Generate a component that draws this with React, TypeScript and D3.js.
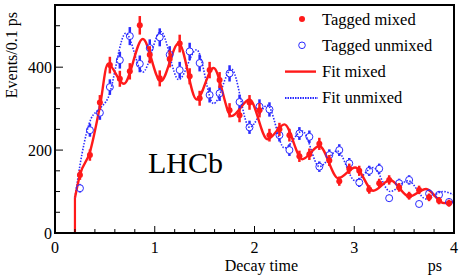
import React from 'react';
import * as d3 from 'd3';

// bin centres (ps), 0.1 ps bins
const binCenters = [
  0.25, 0.35, 0.45, 0.55, 0.65, 0.75, 0.85, 0.95, 1.05, 1.15,
  1.25, 1.35, 1.45, 1.55, 1.65, 1.75, 1.85, 1.95, 2.05, 2.15,
  2.25, 2.35, 2.45, 2.55, 2.65, 2.75, 2.85, 2.95, 3.05, 3.15,
  3.25, 3.35, 3.45, 3.55, 3.65, 3.75, 3.85, 3.95,
];
const mixedCounts = [
  140, 188, 315, 405, 372, 390, 501, 430, 373, 420,
  457, 378, 325, 393, 369, 296, 284, 315, 296, 236,
  250, 236, 185, 190, 215, 175, 125, 155, 150, 105,
  120, 128, 110, 90, 104, 86, 78, 72,
];
const unmixedCounts = [
  108, 248, 290, 352, 417, 475, 408, 446, 472, 430,
  393, 438, 410, 333, 337, 385, 316, 255, 305, 298,
  236, 200, 240, 232, 160, 188, 200, 168, 122, 150,
  155, 84, 120, 128, 70, 95, 92, 75,
];

// fit curves, read at their turning points
const fitMixedT = [0.2, 0.25, 0.35, 0.45, 0.53, 0.69, 0.88, 1.06, 1.24, 1.42, 1.59, 1.77, 1.95, 2.13, 2.30, 2.48, 2.65, 2.84, 3.01, 3.19, 3.36, 3.55, 3.72, 3.90, 4.0];
const fitMixedV = [85, 140, 195, 305, 408, 360, 468, 366, 458, 322, 398, 282, 322, 226, 262, 178, 210, 132, 158, 102, 128, 88, 106, 72, 76];
const fitUnmixedT = [0.2, 0.27, 0.36, 0.45, 0.53, 0.71, 0.88, 1.06, 1.24, 1.42, 1.59, 1.77, 1.95, 2.13, 2.30, 2.48, 2.65, 2.83, 3.01, 3.19, 3.36, 3.54, 3.72, 3.89, 4.0];
const fitUnmixedV = [85, 190, 275, 300, 325, 482, 388, 486, 370, 442, 312, 395, 255, 308, 205, 246, 160, 198, 126, 158, 100, 126, 82, 100, 92];

const xTicks = [0, 1, 2, 3, 4];
const yTicks = [0, 200, 400];
const legendLabels = ['Tagged mixed', 'Tagged unmixed', 'Fit mixed', 'Fit unmixed'];

const RED = '#ff1a1a';
const BLUE = '#2a2aff';
const FONT = "'Liberation Serif', 'DejaVu Serif', serif";

export default function App() {
  const W = 461, H = 275;
  const x = d3.scaleLinear().domain([0, 4]).range([55, 454]);
  const y = d3.scaleLinear().domain([0, 550]).range([233, 5]);

  const line = d3.line<[number, number]>()
    .x(d => x(d[0]))
    .y(d => y(d[1]))
    .curve(d3.curveMonotoneX);

  const mixedPath = line(fitMixedT.map((t, i) => [t, fitMixedV[i]]))!;
  const unmixedPath = line(fitUnmixedT.map((t, i) => [t, fitUnmixedV[i]]))!;
  const startPath = `M${x(0)},${y(0)}L${x(0.2)},${y(0)}L${x(0.2)},${y(fitMixedV[0])}`;

  const xMinor = d3.range(0, 4.001, 0.2);
  const yMinor = d3.range(0, 551, 50);

  return (
    <svg width={W} height={H} style={{ position: 'absolute', left: 0, top: 0, background: '#fff' }}
      fontFamily={FONT}>
      <rect width={W} height={H} fill="#fff" />

      {/* fits */}
      <path d={unmixedPath} fill="none" stroke={BLUE} strokeWidth={1.6} strokeDasharray="1.5,1.5" />
      <path d={startPath} fill="none" stroke={RED} strokeWidth={2.2} />
      <path d={mixedPath} fill="none" stroke={RED} strokeWidth={2.4} />

      {/* unmixed points */}
      {binCenters.map((t, i) => {
        const v = unmixedCounts[i];
        const e = Math.sqrt(v);
        const cx = x(t), cy = y(v);
        return (
          <g key={'u' + i}>
            <line x1={cx} x2={cx} y1={y(v + e)} y2={cy - 3.5} stroke={BLUE} strokeWidth={2.5} />
            <line x1={cx} x2={cx} y1={cy + 3.5} y2={y(v - e)} stroke={BLUE} strokeWidth={2.5} />
            <circle cx={cx} cy={cy} r={3.5} fill="none" stroke={BLUE} strokeWidth={1} />
          </g>
        );
      })}

      {/* mixed points */}
      {binCenters.map((t, i) => {
        const v = mixedCounts[i];
        const e = Math.sqrt(v);
        const cx = x(t), cy = y(v);
        return (
          <g key={'m' + i}>
            <line x1={cx} x2={cx} y1={y(v + e)} y2={y(v - e)} stroke={RED} strokeWidth={2.5} />
            <circle cx={cx} cy={cy} r={3} fill={RED} />
          </g>
        );
      })}

      {/* frame */}
      <rect x={55} y={5} width={399} height={228} fill="none" stroke="#000" strokeWidth={2} />

      {/* x ticks */}
      {xMinor.map((t, i) => (
        <line key={'xm' + i} x1={x(t)} x2={x(t)} y1={233} y2={Math.abs(t - Math.round(t)) < 1e-6 ? 226 : 229}
          stroke="#000" strokeWidth={1} />
      ))}
      {xTicks.map(t => (
        <text key={'xt' + t} x={x(t)} y={253} fontSize={16} textAnchor="middle">{t}</text>
      ))}

      {/* y ticks */}
      {yMinor.map((v, i) => (
        <line key={'ym' + i} x1={55} x2={v % 200 === 0 ? 63 : 60} y1={y(v)} y2={y(v)}
          stroke="#000" strokeWidth={1} />
      ))}
      {yTicks.map(v => (
        <text key={'yt' + v} x={52} y={y(v) + 5.5} fontSize={16} textAnchor="end">{v}</text>
      ))}

      {/* axis titles */}
      <text x={298} y={271} fontSize={16} textAnchor="end">Decay time</text>
      <text x={442} y={271} fontSize={16} textAnchor="end">ps</text>
      <text transform="translate(17,12) rotate(-90)" fontSize={16} textAnchor="end">Events/0.1 ps</text>

      <text x={148} y={173} fontSize={30}>LHCb</text>

      {/* legend */}
      {legendLabels.map((s, i) => {
        const cy = 19 + i * 26.3;
        return (
          <g key={'lg' + i}>
            {i === 0 && <circle cx={302} cy={cy} r={3} fill={RED} />}
            {i === 1 && <circle cx={302} cy={cy} r={3.3} fill="none" stroke={BLUE} strokeWidth={1} />}
            {i === 2 && <line x1={285} x2={316} y1={cy} y2={cy} stroke={RED} strokeWidth={2.4} />}
            {i === 3 && <line x1={285} x2={318} y1={cy} y2={cy} stroke={BLUE} strokeWidth={2} strokeDasharray="1.5,1" />}
            <text x={322} y={cy + 5.5} fontSize={16.5}>{s}</text>
          </g>
        );
      })}
    </svg>
  );
}
